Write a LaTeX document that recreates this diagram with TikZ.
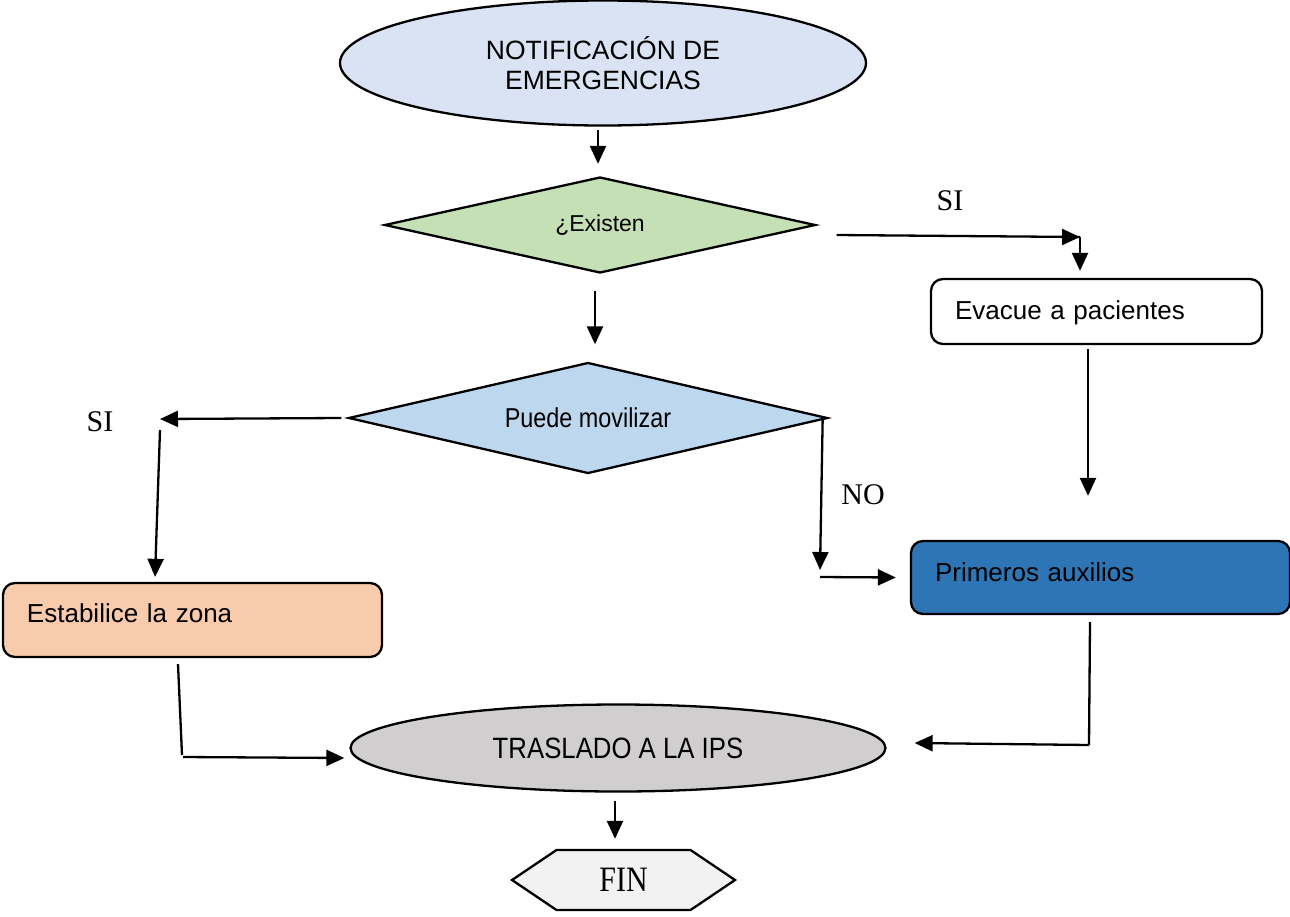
\documentclass[tikz,border=0pt]{standalone}
\usepackage{fontspec}
\setmainfont{Liberation Sans}
\newfontfamily\tnr{Liberation Serif}
\usetikzlibrary{shapes.geometric,shapes.symbols,arrows.meta}
\definecolor{cNotif}{HTML}{DAE3F3}
\definecolor{cExist}{HTML}{C5E0B4}
\definecolor{cPuede}{HTML}{BDD7EE}
\definecolor{cPrim}{HTML}{2E75B6}
\definecolor{cEstab}{HTML}{F8CBAD}
\definecolor{cTras}{HTML}{D0CECE}
\definecolor{cFin}{HTML}{F2F2F2}
\tikzset{
  shp/.style={draw=black, line width=2.3pt, inner sep=0pt},
  ovalbox/.style={shp, ellipse, align=center},
  decbox/.style={shp, diamond},
  procbox/.style={shp, rectangle, rounded corners=12pt, minimum width=331pt, minimum height=65pt,
     text width=283pt, align=left, text height=19pt},
  arr/.style={line width=2.3pt, -{Triangle[length=18pt,width=16pt]}},
  ln/.style={line width=2.3pt},
  lab/.style={font=\tnr\fontsize{30}{34}\selectfont, inner sep=0pt},
}
\begin{document}
\begin{tikzpicture}[x=1pt,y=-1pt]
\useasboundingbox (0,0) rectangle (1290,916);
\fill[white] (0,0) rectangle (1290,916);

\node[ovalbox, fill=cNotif, minimum width=526pt, minimum height=125pt,
  font=\fontsize{26.5}{30}\selectfont] (notif) at (603,63) {NOTIFICACIÓN DE\\EMERGENCIAS};
\node[decbox, fill=cExist, aspect=4.49, minimum width=431pt, minimum height=96pt,
  font=\fontsize{23}{27}\selectfont] (exist) at (600,225) {¿Existen};
\node[procbox, fill=white, minimum width=331pt, minimum height=65pt, text depth=3pt,
  font=\fontsize{26}{30}\selectfont] (evac) at (1096.5,311.5) {Evacue a pacientes};
\node[decbox, fill=cPuede, aspect=4.3, minimum width=479pt, minimum height=111pt,
  font=\fontsize{26}{30}\selectfont] (puede) at (588,418) {\scalebox{0.9}[1.05]{Puede movilizar}};
\node[procbox, fill=cPrim, minimum width=379pt, minimum height=73pt, text width=331pt, text depth=12pt,
  font=\fontsize{26}{30}\selectfont] (prim) at (1100.5,577.5) {Primeros auxilios};
\node[procbox, fill=cEstab, minimum width=379pt, minimum height=74pt, text width=331pt, text depth=14pt,
  font=\fontsize{26}{30}\selectfont] (estab) at (192.5,620) {Estabilice la zona};
\node[ovalbox, fill=cTras, minimum width=535pt, minimum height=87pt,
  font=\fontsize{28}{32}\selectfont] (tras) at (618,748) {\scalebox{0.92}[1.05]{TRASLADO A LA IPS}};
\node[shp, signal, signal to=east and west, signal pointer angle=68, fill=cFin,
  minimum width=223pt, minimum height=60pt, font=\tnr\fontsize{34}{38}\selectfont] (fin) at (623.5,880) {\scalebox{0.88}[1.05]{FIN}};

\node[lab] (si1) at (950,201) {SI};
\node[lab] (si2) at (100,422) {SI};
\node[lab] (no) at (863,495) {NO};

% connectors
\coordinate (c1) at (1080,237);
\coordinate (c2) at (160,419);
\coordinate (c3) at (820,577);
\coordinate (c4) at (182,757);
\coordinate (c5) at (1089,745);

\draw[arr] ([xshift=-5pt,yshift=-3pt]notif.south) -- ([xshift=-2pt,yshift=12pt]exist.north);
\draw[ln] ([shift={(20pt,-10pt)}]exist.east) -- (c1);
\draw[arr] ([xshift=-18pt]c1) -- (c1);
\draw[arr] (c1) -- ([yshift=7pt]evac.north -| c1);
\draw[arr] ([xshift=-5pt,yshift=-17pt]exist.south) -- ([xshift=7pt,yshift=17pt]puede.north);

\draw[arr] ([xshift=-6pt]puede.west) -- (c2);
\draw[arr] ([yshift=-11pt]c2) -- ([xshift=-37.5pt,yshift=5pt]estab.north);

\draw[arr] ([xshift=-6pt,yshift=-2pt]puede.east) -- ([yshift=7pt]c3);
\draw[arr] (c3) -- ([xshift=-14pt]prim.west);

\draw[arr] ([xshift=-8.5pt,yshift=-4pt]evac.south) -- ([xshift=-12.5pt,yshift=44pt]prim.north);

\draw[ln] ([xshift=-14.5pt,yshift=-6pt]estab.south) -- ([yshift=2pt]c4);
\draw[arr] ([xshift=1pt]c4) -- ([xshift=-5pt,yshift=-10pt]tras.west);

\draw[ln] ([xshift=-10.5pt,yshift=-7pt]prim.south) -- (c5);
\draw[arr] (c5) -- ([xshift=28pt,yshift=5pt]tras.east);

\draw[arr] ([xshift=-3pt,yshift=-8pt]tras.south) -- ([xshift=-8.5pt,yshift=10pt]fin.north);
\end{tikzpicture}
\end{document}
